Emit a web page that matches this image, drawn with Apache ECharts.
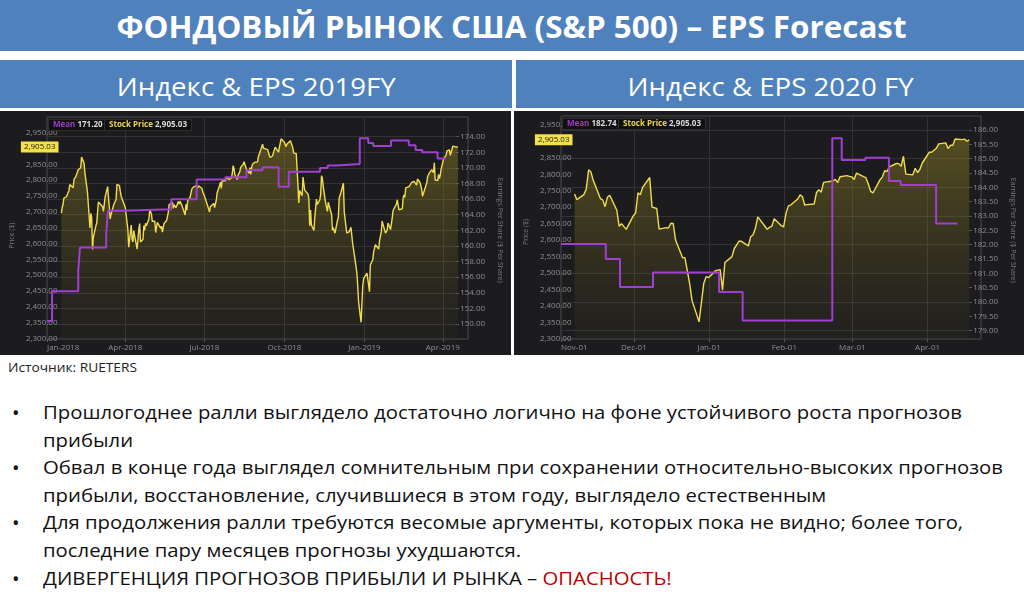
<!DOCTYPE html>
<html><head><meta charset="utf-8">
<script src="https://cdn.jsdelivr.net/npm/echarts@6/dist/echarts.min.js"></script>
<style>
html,body{margin:0;padding:0;background:#fff;width:1024px;height:595px;overflow:hidden;font-family:'Open Sans',sans-serif;}
.bar{position:absolute;background:#4f81bd;color:#fff;display:flex;align-items:center;justify-content:center;white-space:nowrap;}
.fit{display:inline-block;transform-origin:center center;}
#title{left:0;top:0;width:1024px;height:51px;font-weight:bold;font-size:31px;}
#sub1{left:0;top:60px;width:512px;height:48px;font-size:25px;padding-top:4px;box-sizing:border-box;}
#sub2{left:516px;top:60px;width:508px;height:48px;font-size:25px;padding-top:4px;box-sizing:border-box;}
.panel{position:absolute;top:111px;height:244px;background:#1c1c1e;}
#c1{left:0;width:511px;}
#c2{left:514px;width:510px;}
#src{position:absolute;left:8px;top:359px;font-size:12.5px;color:#222;white-space:nowrap;transform-origin:left center;}
#bul{position:absolute;left:0;top:399px;width:1024px;font-size:19px;color:#111;}
.ln{position:relative;height:27.6px;line-height:27.6px;white-space:nowrap;}
.ln .t{position:absolute;left:43px;top:0;transform-origin:left center;}
.ln .b{position:absolute;left:12px;top:0;font-size:20px;}
.red{color:#c00000;}
</style></head>
<body>
<div id="title" class="bar"><span class="fit" id="tt">ФОНДОВЫЙ РЫНОК США (S&amp;P 500) – EPS Forecast</span></div>
<div id="sub1" class="bar"><span class="fit" id="s1">Индекс &amp; EPS 2019FY</span></div>
<div id="sub2" class="bar"><span class="fit" id="s2">Индекс &amp; EPS 2020 FY</span></div>
<div id="c1" class="panel"></div>
<div id="c2" class="panel"></div>
<div id="src">Источник: RUETERS</div>
<div id="bul">
 <div class="ln"><span class="b">•</span><span class="t">Прошлогоднее ралли выглядело достаточно логично на фоне устойчивого роста прогнозов</span></div>
 <div class="ln"><span class="t">прибыли</span></div>
 <div class="ln"><span class="b">•</span><span class="t">Обвал в конце года выглядел сомнительным при сохранении относительно-высоких прогнозов</span></div>
 <div class="ln"><span class="t">прибыли, восстановление, случившиеся в этом году, выглядело естественным</span></div>
 <div class="ln"><span class="b">•</span><span class="t">Для продолжения ралли требуются весомые аргументы, которых пока не видно; более того,</span></div>
 <div class="ln"><span class="t">последние пару месяцев прогнозы ухудшаются.</span></div>
 <div class="ln"><span class="b">•</span><span class="t">ДИВЕРГЕНЦИЯ ПРОГНОЗОВ ПРИБЫЛИ И РЫНКА – <span class="red">ОПАСНОСТЬ!</span></span></div>
</div>
<script>
// ---------------- DATA ----------------
// S&P 500 close (date, price $)
const sp500 = [
['2018-01-02',2695.8],['2018-01-03',2713.1],['2018-01-04',2724.0],['2018-01-05',2743.2],['2018-01-08',2747.7],['2018-01-09',2751.3],['2018-01-10',2748.2],['2018-01-11',2767.6],['2018-01-12',2786.2],['2018-01-16',2776.4],['2018-01-17',2802.6],['2018-01-18',2798.0],['2018-01-19',2810.3],['2018-01-22',2833.0],['2018-01-23',2839.1],['2018-01-24',2837.5],['2018-01-25',2839.3],['2018-01-26',2872.9],['2018-01-29',2853.5],['2018-01-30',2822.4],['2018-01-31',2823.8],
['2018-02-01',2822.0],['2018-02-02',2762.1],['2018-02-05',2648.9],['2018-02-06',2695.1],['2018-02-07',2681.7],['2018-02-08',2581.0],['2018-02-09',2619.6],['2018-02-12',2656.0],['2018-02-13',2662.9],['2018-02-14',2698.6],['2018-02-15',2731.2],['2018-02-16',2732.2],['2018-02-20',2716.3],['2018-02-21',2701.3],['2018-02-22',2704.0],['2018-02-23',2747.3],['2018-02-26',2779.6],['2018-02-27',2744.3],['2018-02-28',2713.8],
['2018-03-01',2677.7],['2018-03-02',2691.3],['2018-03-05',2720.9],['2018-03-06',2728.1],['2018-03-07',2726.8],['2018-03-08',2739.0],['2018-03-09',2786.6],['2018-03-12',2783.0],['2018-03-13',2765.3],['2018-03-14',2749.5],['2018-03-15',2747.3],['2018-03-16',2752.0],['2018-03-19',2712.9],['2018-03-20',2716.9],['2018-03-21',2711.9],['2018-03-22',2643.7],['2018-03-23',2588.3],['2018-03-26',2658.6],['2018-03-27',2612.6],['2018-03-28',2605.0],['2018-03-29',2640.9],
['2018-04-02',2581.9],['2018-04-03',2614.5],['2018-04-04',2644.7],['2018-04-05',2662.8],['2018-04-06',2604.5],['2018-04-09',2613.2],['2018-04-10',2656.9],['2018-04-11',2642.2],['2018-04-12',2664.0],['2018-04-13',2656.3],['2018-04-16',2677.8],['2018-04-17',2706.4],['2018-04-18',2708.6],['2018-04-19',2693.1],['2018-04-20',2670.1],['2018-04-23',2670.3],['2018-04-24',2634.6],['2018-04-25',2639.4],['2018-04-26',2666.9],['2018-04-27',2669.9],['2018-04-30',2648.1],
['2018-05-01',2654.8],['2018-05-02',2635.7],['2018-05-03',2629.7],['2018-05-04',2663.4],['2018-05-07',2672.6],['2018-05-08',2671.9],['2018-05-09',2697.8],['2018-05-10',2723.1],['2018-05-11',2727.7],['2018-05-14',2730.1],['2018-05-15',2711.5],['2018-05-16',2722.5],['2018-05-17',2720.1],['2018-05-18',2713.0],['2018-05-21',2733.0],['2018-05-22',2724.4],['2018-05-23',2733.3],['2018-05-24',2727.8],['2018-05-25',2721.3],['2018-05-29',2689.9],['2018-05-30',2724.0],['2018-05-31',2705.3],
['2018-06-01',2734.6],['2018-06-04',2746.9],['2018-06-05',2748.8],['2018-06-06',2772.4],['2018-06-07',2770.4],['2018-06-08',2779.0],['2018-06-11',2782.0],['2018-06-12',2786.9],['2018-06-13',2775.6],['2018-06-14',2782.5],['2018-06-15',2779.4],['2018-06-18',2773.9],['2018-06-19',2762.6],['2018-06-20',2767.3],['2018-06-21',2749.8],['2018-06-22',2754.9],['2018-06-25',2717.1],['2018-06-26',2723.1],['2018-06-27',2699.6],['2018-06-28',2716.3],['2018-06-29',2718.4],
['2018-07-02',2726.7],['2018-07-03',2713.2],['2018-07-05',2736.6],['2018-07-06',2759.8],['2018-07-09',2784.2],['2018-07-10',2793.8],['2018-07-11',2774.0],['2018-07-12',2798.3],['2018-07-13',2801.3],['2018-07-16',2798.4],['2018-07-17',2809.6],['2018-07-18',2815.6],['2018-07-19',2804.5],['2018-07-20',2801.8],['2018-07-23',2807.0],['2018-07-24',2820.4],['2018-07-25',2846.1],['2018-07-26',2837.4],['2018-07-27',2818.8],['2018-07-30',2802.6],['2018-07-31',2816.3],
['2018-08-01',2813.4],['2018-08-02',2827.2],['2018-08-03',2840.4],['2018-08-06',2850.4],['2018-08-07',2858.5],['2018-08-08',2857.7],['2018-08-09',2853.6],['2018-08-10',2833.3],['2018-08-13',2821.9],['2018-08-14',2840.0],['2018-08-15',2818.4],['2018-08-16',2840.7],['2018-08-17',2850.1],['2018-08-20',2857.1],['2018-08-21',2863.0],['2018-08-22',2861.8],['2018-08-23',2857.0],['2018-08-24',2874.7],['2018-08-27',2896.7],['2018-08-28',2897.5],['2018-08-29',2914.0],['2018-08-30',2901.1],['2018-08-31',2901.5],
['2018-09-04',2896.7],['2018-09-05',2888.6],['2018-09-06',2878.1],['2018-09-07',2871.7],['2018-09-10',2877.1],['2018-09-11',2887.9],['2018-09-12',2888.9],['2018-09-13',2904.2],['2018-09-14',2905.0],['2018-09-17',2888.8],['2018-09-18',2904.3],['2018-09-19',2908.0],['2018-09-20',2930.8],['2018-09-21',2929.7],['2018-09-24',2919.4],['2018-09-25',2915.6],['2018-09-26',2906.0],['2018-09-27',2914.0],['2018-09-28',2914.0],
['2018-10-01',2924.6],['2018-10-02',2923.4],['2018-10-03',2925.5],['2018-10-04',2901.6],['2018-10-05',2885.6],['2018-10-08',2884.4],['2018-10-09',2880.3],['2018-10-10',2785.7],['2018-10-11',2728.4],['2018-10-12',2767.1],['2018-10-15',2750.8],['2018-10-16',2809.9],['2018-10-17',2809.2],['2018-10-18',2768.8],['2018-10-19',2767.8],['2018-10-22',2755.9],['2018-10-23',2740.7],['2018-10-24',2656.1],['2018-10-25',2705.6],['2018-10-26',2658.7],['2018-10-29',2641.3],['2018-10-30',2682.6],['2018-10-31',2711.7],
['2018-11-01',2740.4],['2018-11-02',2723.1],['2018-11-05',2738.3],['2018-11-06',2755.5],['2018-11-07',2813.9],['2018-11-08',2806.8],['2018-11-09',2781.0],['2018-11-12',2726.2],['2018-11-13',2722.2],['2018-11-14',2701.6],['2018-11-15',2730.2],['2018-11-16',2736.3],['2018-11-19',2690.7],['2018-11-20',2641.9],['2018-11-21',2649.9],['2018-11-23',2632.6],['2018-11-26',2673.5],['2018-11-27',2682.2],['2018-11-28',2743.8],['2018-11-29',2737.8],['2018-11-30',2760.2],
['2018-12-03',2790.4],['2018-12-04',2700.1],['2018-12-06',2695.9],['2018-12-07',2633.1],['2018-12-10',2637.7],['2018-12-11',2636.8],['2018-12-12',2651.1],['2018-12-13',2650.5],['2018-12-14',2600.0],['2018-12-17',2545.9],['2018-12-18',2546.2],['2018-12-19',2507.0],['2018-12-20',2467.4],['2018-12-21',2416.6],['2018-12-24',2351.1],['2018-12-26',2467.7],['2018-12-27',2488.8],['2018-12-28',2485.7],['2018-12-31',2506.9],
['2019-01-02',2510.0],['2019-01-03',2447.9],['2019-01-04',2531.9],['2019-01-07',2549.7],['2019-01-08',2574.4],['2019-01-09',2585.0],['2019-01-10',2596.6],['2019-01-11',2596.3],['2019-01-14',2582.6],['2019-01-15',2610.3],['2019-01-16',2616.1],['2019-01-17',2636.0],['2019-01-18',2670.7],['2019-01-22',2632.9],['2019-01-23',2638.7],['2019-01-24',2642.3],['2019-01-25',2664.8],['2019-01-28',2643.9],['2019-01-29',2640.0],['2019-01-30',2681.1],['2019-01-31',2704.1],
['2019-02-01',2706.5],['2019-02-04',2724.9],['2019-02-05',2737.7],['2019-02-06',2731.6],['2019-02-07',2706.1],['2019-02-08',2707.9],['2019-02-11',2709.8],['2019-02-12',2744.7],['2019-02-13',2753.0],['2019-02-14',2745.7],['2019-02-15',2775.6],['2019-02-19',2779.8],['2019-02-20',2784.7],['2019-02-21',2774.9],['2019-02-22',2792.7],['2019-02-25',2796.1],['2019-02-26',2793.9],['2019-02-27',2792.4],['2019-02-28',2784.5],
['2019-03-01',2803.7],['2019-03-04',2792.8],['2019-03-05',2789.7],['2019-03-06',2771.5],['2019-03-07',2748.9],['2019-03-08',2743.1],['2019-03-11',2783.3],['2019-03-12',2791.5],['2019-03-13',2810.9],['2019-03-14',2808.5],['2019-03-15',2822.5],['2019-03-18',2832.9],['2019-03-19',2832.6],['2019-03-20',2824.2],['2019-03-21',2854.9],['2019-03-22',2800.7],['2019-03-25',2798.4],['2019-03-26',2818.5],['2019-03-27',2805.4],['2019-03-28',2815.4],['2019-03-29',2834.4],
['2019-04-01',2867.2],['2019-04-02',2867.2],['2019-04-03',2873.4],['2019-04-04',2879.4],['2019-04-05',2892.7],['2019-04-08',2895.8],['2019-04-09',2878.2],['2019-04-10',2888.2],['2019-04-11',2888.3],['2019-04-12',2907.4],['2019-04-15',2905.6],['2019-04-16',2907.1],['2019-04-17',2900.5],['2019-04-18',2905.03]
];
// Mean EPS forecast for FY2019 (date the level starts, $ per share)
const eps2019Dates  = ['2018-01-01','2018-01-07','2018-02-07','2018-02-09','2018-03-12','2018-03-14','2018-04-01','2018-05-28','2018-06-27','2018-07-31','2018-08-25','2018-09-13','2018-10-02','2018-10-14','2018-11-20','2018-11-29','2018-12-10','2019-01-06','2019-01-16','2019-01-22','2019-02-12','2019-03-05','2019-03-13','2019-03-21','2019-04-08','2019-04-18'];
const eps2019Values = [150.4,154.2,156.9,159.8,161.4,164.5,164.7,166.0,168.5,168.8,169.7,170.1,167.6,169.5,170.0,170.3,170.5,173.8,173.2,172.8,173.5,172.9,172.3,172.0,171.2,171.2];
// Mean EPS forecast for FY2020
const eps2020Dates  = ['2018-11-01','2018-11-20','2018-11-26','2018-12-10','2019-01-07','2019-01-17','2019-02-24','2019-02-28','2019-03-10','2019-03-20','2019-03-25','2019-04-09','2019-04-18'];
const eps2020Values = [182.02,181.5,180.52,181.03,180.35,179.36,185.71,184.95,185.03,184.22,184.08,182.74,182.74];
// X-axis tick dates
const ticks2019 = ['2018-01-01','2018-04-01','2018-07-01','2018-10-01','2019-01-01','2019-04-01'];
const ticks2020 = ['2018-11-01','2018-12-01','2019-01-01','2019-02-01','2019-03-01','2019-04-01'];
// axis ranges
const range2019 = {xMin:'2018-01-01', xMax:'2019-04-30', pMin:2300, pMax:2950, pStep:50, eMin:150, eMax:174, eStep:2, eGrid:2};
const range2020 = {xMin:'2018-11-01', xMax:'2019-04-23', pMin:2300, pMax:2950, pStep:50, eMin:179, eMax:186, eStep:0.5, eGrid:1};

// ---------------- text fitting ----------------
function fit(){
  function sx(el, w){ const r = el.getBoundingClientRect().width; const k = w / r; el.style.transform = 'scaleX(' + k + ')'; return k; }
  sx(document.getElementById('tt'), 790);
  const k = sx(document.getElementById('s1'), 279);
  document.getElementById('s2').style.transform = 'scaleX(' + k + ')';
  sx(document.getElementById('src'), 129);
  const ts_ = document.querySelectorAll('#bul .t');
  const kb = 919 / ts_[0].getBoundingClientRect().width;
  ts_.forEach(e => e.style.transform = 'scaleX(' + kb + ')');
}
fit();

// ---------------- HELPERS ----------------
const MON = ['Jan','Feb','Mar','Apr','May','Jun','Jul','Aug','Sep','Oct','Nov','Dec'];
function ts(s){const p=s.split('-');return new Date(+p[0],+p[1]-1,+p[2]).getTime();}
function money(v){return Number(v).toLocaleString('en-US',{minimumFractionDigits:2,maximumFractionDigits:2});}
const FONT = "'Open Sans', sans-serif";
const LBL = '#8e8e92';

function build(r, epsDates, epsValues, ticks, fmt, lay){
  const xMin = ts(r.xMin), xMax = ts(r.xMax);
  const price = sp500.map(d=>[ts(d[0]),d[1]]).filter(p=>p[0]>=xMin && p[0]<=xMax);
  const eps = epsDates.map((d,i)=>[ts(d),epsValues[i]]);
  const lastP = sp500[sp500.length-1][1];
  const lastE = epsValues[epsValues.length-1];
  const tk = ticks.map(ts);
  const L = lay.left, R = lay.right;
  const box = {backgroundColor:'#111112', borderColor:'#2e2e31', borderWidth:1, padding:[2,5,2,5], top:lay.legTop};
  return {
    animation:false,
    textStyle:{fontFamily:FONT},
    title:[
      Object.assign({left:L+1, text:'{m|Mean }{v|'+money(lastE)+'}',
       textStyle:{fontSize:8, rich:{m:{color:'#9b3cc9',fontSize:8,fontFamily:FONT},v:{color:'#dcdcdc',fontSize:8,fontFamily:FONT}}}}, box),
      Object.assign({left:104, text:'{m|Stock Price }{v|'+money(lastP)+'}',
       textStyle:{fontSize:8, rich:{m:{color:'#e9d64a',fontSize:8,fontFamily:FONT},v:{color:'#dcdcdc',fontSize:8,fontFamily:FONT}}}}, box)
    ],
    grid:[
      {left:L, right:R, top:lay.pTop, bottom:lay.pBottom},
      {left:L, right:R, top:lay.eTop, bottom:lay.eBottom},
      {left:L, right:R, top:lay.fTop, bottom:lay.fBottom, show:true, borderColor:'#4a4a4e', borderWidth:1, backgroundColor:'transparent'}
    ],
    xAxis:[
      {gridIndex:0, type:'value', min:xMin, max:xMax, show:false},
      {gridIndex:1, type:'value', min:xMin, max:xMax, show:false},
      {gridIndex:2, type:'value', min:xMin, max:xMax,
       axisLine:{show:false},
       axisTick:{show:true, customValues:tk, length:3, lineStyle:{color:'#55555a'}},
       axisLabel:{customValues:tk, formatter:v=>fmt(new Date(v)), color:LBL, fontSize:8, margin:5, alignMinLabel:'left'},
       splitLine:{show:true, lineStyle:{color:'#333337', width:1}}}
    ],
    yAxis:[
      {gridIndex:0, type:'value', min:r.pMin, max:r.pMax, interval:r.pStep, position:'left',
       axisLine:{show:false}, axisTick:{show:false}, splitLine:{show:false},
       axisLabel:{formatter:v=>money(v), color:LBL, fontSize:8, margin:3},
       name:'Price ($)', nameLocation:'middle', nameGap:38, nameTextStyle:{color:'#77777b', fontSize:7}},
      {gridIndex:1, type:'value', min:r.eMin, max:r.eMax, interval:r.eStep, position:'right',
       axisLine:{show:false}, axisTick:{show:true, length:3, lineStyle:{color:'#55555a'}},
       splitLine:{show:false},
       axisLabel:{formatter:v=>v.toFixed(2), color:LBL, fontSize:8, margin:4},
       name:'Earnings Per Share ($ Per Share)', nameLocation:'middle', nameRotate:-90, nameGap:33, nameTextStyle:{color:'#77777b', fontSize:7}},
      {gridIndex:1, type:'value', min:r.eMin, max:r.eMax, interval:r.eGrid, position:'right',
       axisLine:{show:false}, axisTick:{show:false}, axisLabel:{show:false},
       splitLine:{show:true, lineStyle:{color:'#333337', width:1}}},
      {gridIndex:2, type:'value', min:0, max:1, show:false},
      // last-price badge on the price axis
      {gridIndex:0, type:'value', min:r.pMin, max:r.pMax, position:'left',
       axisLine:{show:false}, axisTick:{show:false}, splitLine:{show:false},
       axisLabel:{customValues:[lastP], formatter:v=>money(v), color:'#1a1a1a', fontSize:8, margin:2,
         backgroundColor:'#f3e04b', padding:[2,3,1,3], showMinLabel:true, showMaxLabel:true}}
    ],
    series:[
      {type:'line', name:'Stock Price', xAxisIndex:0, yAxisIndex:0, data:price, showSymbol:false, symbol:'none',
       lineStyle:{color:'#f1dd4c', width:1.4}, z:3,
       areaStyle:{color:new echarts.graphic.LinearGradient(0,0,0,1,[{offset:0,color:'rgba(150,134,38,0.68)'},{offset:1,color:'rgba(110,100,35,0.08)'}])}},
      {type:'line', name:'Mean', xAxisIndex:1, yAxisIndex:1, data:eps, step:'end', showSymbol:false, symbol:'none',
       lineStyle:{color:'#a23ed1', width:2}, z:4}
    ]
  };
}

const fmt2019 = d => MON[d.getMonth()] + '-' + d.getFullYear();
const fmt2020 = d => MON[d.getMonth()] + '-' + String(d.getDate()).padStart(2,'0');

const c1 = echarts.init(document.getElementById('c1'), null, {renderer:'canvas'});
c1.setOption(build(range2019, eps2019Dates, eps2019Values, ticks2019, fmt2019,
  {left:47, right:43, pTop:21.7, pBottom:16.5, eTop:25.7, eBottom:31, fTop:6, fBottom:16, legTop:8}));
const c2 = echarts.init(document.getElementById('c2'), null, {renderer:'canvas'});
c2.setOption(build(range2020, eps2020Dates, eps2020Values, ticks2020, fmt2020,
  {left:47, right:43, pTop:14, pBottom:16.3, eTop:19, eBottom:24.3, fTop:5, fBottom:16, legTop:7}));
</script>
</body></html>
